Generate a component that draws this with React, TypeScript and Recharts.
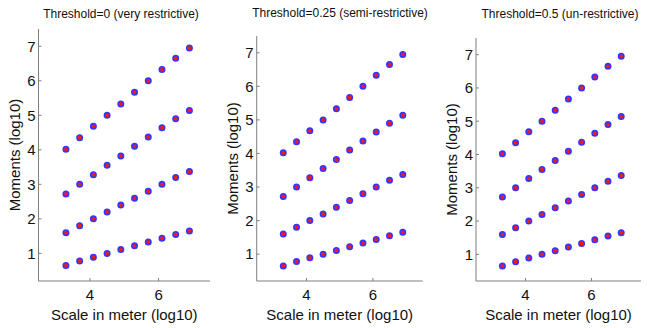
import { ScatterChart, Scatter, XAxis, YAxis } from "recharts";

// log10 scale in meters (x) for every panel
const scaleLog = [3.3, 3.7, 4.1, 4.5, 4.9, 5.3, 5.7, 6.1, 6.5, 6.9];

// log10 moments, one array per moment order
const moment4 = [4.02, 4.35, 4.68, 5.0, 5.33, 5.67, 6.0, 6.33, 6.65, 6.95];
const moment3 = [2.72, 3.0, 3.28, 3.55, 3.82, 4.1, 4.37, 4.64, 4.9, 5.14];
const moment2 = [1.6, 1.8, 2.0, 2.2, 2.4, 2.6, 2.8, 3.0, 3.2, 3.37];
const moment1 = [0.65, 0.78, 0.89, 1.0, 1.11, 1.22, 1.33, 1.44, 1.55, 1.65];

const xTicks = [4, 6];
const yTicks = [1, 2, 3, 4, 5, 6, 7];

const panelTitles = [
  "Threshold=0 (very restrictive)",
  "Threshold=0.25 (semi-restrictive)",
  "Threshold=0.5 (un-restrictive)",
];

const FONT = "'Liberation Sans', Arial, sans-serif";
const AXIS = "#7f7f7f";

const toPoints = (ys: number[]) => scaleLog.map((x, i) => ({ x, y: ys[i] }));
const allSeries = [moment4, moment3, moment2, moment1].map(toPoints);

function Marker(props: any) {
  const { cx, cy } = props;
  if (cx == null || cy == null) return null;
  return <circle cx={cx} cy={cy} r={2.7} fill="#f01a1a" stroke="#3535ff" strokeWidth={1.6} />;
}

type PanelProps = {
  title: string;
  left: number;
  width: number;
  top: number;
  right: number;
  yWidth: number;
  labelOffset: number;
  titleX: number;
  titleY: number;
};

function Panel({ title, left, width, top, right, yWidth, labelOffset, titleX, titleY }: PanelProps) {
  const tickStyle = { fontSize: 15, fontFamily: FONT, fill: "#111" };
  return (
    <>
      <div
        style={{
          position: "absolute",
          left: titleX - 120,
          width: 240,
          top: titleY - 8,
          height: 16,
          lineHeight: "16px",
          textAlign: "center",
          fontSize: 12,
          fontFamily: FONT,
          color: "#111",
          whiteSpace: "nowrap",
        }}
      >
        {title}
      </div>
      <div style={{ position: "absolute", left, top: 0 }}>
        <ScatterChart width={width} height={328} margin={{ top, right, left: 0, bottom: 0 }}>
          <XAxis
            type="number"
            dataKey="x"
            domain={[2.5, 7.5]}
            allowDataOverflow
            ticks={xTicks}
            height={47}
            tickSize={-3}
            tickMargin={11}
            stroke={AXIS}
            tick={tickStyle}
            label={{
              value: "Scale in meter (log10)",
              position: "insideBottom",
              offset: 8,
              style: { fontSize: 15, fontFamily: FONT, fill: "#111" },
            }}
          />
          <YAxis
            type="number"
            dataKey="y"
            domain={[0.2, 7.5]}
            allowDataOverflow
            ticks={yTicks}
            width={yWidth}
            tickSize={-3}
            tickMargin={6}
            stroke={AXIS}
            tick={tickStyle}
            label={{
              value: "Moments (log10)",
              angle: -90,
              position: "insideLeft",
              offset: labelOffset,
              style: { textAnchor: "middle", fontSize: 15, fontFamily: FONT, fill: "#111" },
            }}
          />
          {allSeries.map((d, i) => (
            <Scatter key={i} data={d} shape={Marker} isAnimationActive={false} />
          ))}
        </ScatterChart>
      </div>
    </>
  );
}

export default function App() {
  return (
    <div style={{ position: "absolute", left: 0, top: 0, width: 647, height: 328, background: "#fff" }}>
      <Panel title={panelTitles[0]} left={0} width={215} top={29} right={5} yWidth={38.5} labelOffset={15} titleX={121} titleY={14} />
      <Panel title={panelTitles[1]} left={215} width={215} top={36} right={7.3} yWidth={41.7} labelOffset={18} titleX={340} titleY={13} />
      <Panel title={panelTitles[2]} left={430} width={217} top={38} right={6} yWidth={46} labelOffset={22} titleX={560} titleY={14} />
    </div>
  );
}
